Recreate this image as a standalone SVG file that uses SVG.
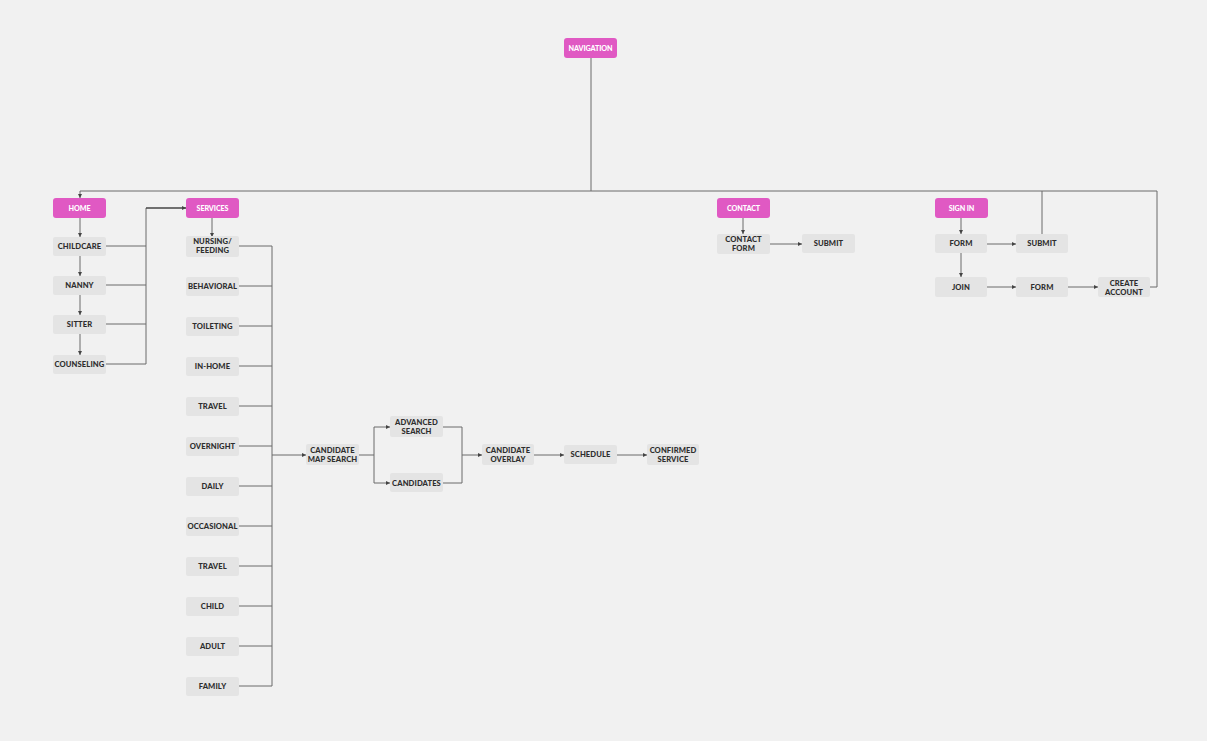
<svg xmlns="http://www.w3.org/2000/svg" width="1207" height="741" viewBox="0 0 1207 741">
<style>
.bg{fill:#f1f1f1}
.p rect{fill:#e059c3}
.p text{fill:#fff;font-family:Lato,"Liberation Sans",sans-serif;font-weight:900;font-size:7.2px;text-anchor:middle;letter-spacing:-0.1px}
.n rect{fill:#e4e4e4}
.n text{fill:#2e2e2e;font-family:Lato,"Liberation Sans",sans-serif;font-weight:900;font-size:7.6px;text-anchor:middle;letter-spacing:0.1px}
.c path{fill:none;stroke:#6a6a6a;stroke-width:1}
.c path.a{marker-end:url(#ah)}
.c path.t{stroke:#444;stroke-width:1.4}
</style>
<defs>
<marker id="ah" viewBox="0 0 6 6" refX="6" refY="3" markerWidth="4" markerHeight="4" orient="auto" markerUnits="userSpaceOnUse">
<path d="M0,0 L6,3 L0,6 z" fill="#444"/>
</marker>
</defs>
<rect class="bg" x="0" y="0" width="1207" height="741"/>

<g class="c" id="connectors">
<path d="M591,58 V191"/>
<path d="M80,191 H1157 V287 H1150"/>
<path class="a" d="M80,191 V198"/>
<path d="M1042,191 V234"/>
<path class="a" d="M80,218 V237"/>
<path class="a" d="M80,255 V276"/>
<path class="a" d="M80,294 V315"/>
<path class="a" d="M80,334 V355"/>
<path d="M106,246 H146"/>
<path d="M106,285 H146"/>
<path d="M106,324 H146"/>
<path d="M106,364 H146 V208"/>
<path class="a t" d="M146,208 H186"/>
<path class="a" d="M212,218 V237"/>
<path d="M239,246 H272 V686 H239"/>
<path d="M239,286 H272"/>
<path d="M239,326 H272"/>
<path d="M239,366 H272"/>
<path d="M239,406 H272"/>
<path d="M239,446 H272"/>
<path d="M239,486 H272"/>
<path d="M239,526 H272"/>
<path d="M239,566 H272"/>
<path d="M239,606 H272"/>
<path d="M239,646 H272"/>
<path class="a" d="M272,455 H306"/>
<path d="M359,455 H374"/>
<path class="a" d="M374,455 V427 H390"/>
<path class="a" d="M374,455 V483 H390"/>
<path d="M443,427 H462 V483 H443"/>
<path class="a" d="M462,455 H482"/>
<path class="a" d="M534,455 H564"/>
<path class="a" d="M617,455 H647"/>
<path class="a" d="M743,217 V234"/>
<path class="a" d="M770,244 H802"/>
<path class="a" d="M961,218 V234"/>
<path class="a" d="M961,253 V277"/>
<path class="a" d="M987,244 H1016"/>
<path class="a" d="M987,287 H1016"/>
<path class="a" d="M1068,287 H1098"/>
</g>

<g id="navigation" class="p"><rect x="564" y="38" width="53" height="20" rx="3"/><text x="590.5" y="50.5">NAVIGATION</text></g>
<g id="home" class="p"><rect x="53" y="198" width="53" height="20" rx="3"/><text x="79.5" y="210.5">HOME</text></g>
<g id="services" class="p"><rect x="186" y="198" width="53" height="20" rx="3"/><text x="212.5" y="210.5">SERVICES</text></g>
<g id="contact" class="p"><rect x="717" y="198" width="53" height="20" rx="3"/><text x="743.5" y="210.5">CONTACT</text></g>
<g id="signin" class="p"><rect x="935" y="198" width="53" height="20" rx="3"/><text x="961.5" y="210.5">SIGN IN</text></g>

<g id="childcare" class="n"><rect x="53" y="237" width="53" height="19" rx="2"/><text x="79.5" y="249">CHILDCARE</text></g>
<g id="nanny" class="n"><rect x="53" y="276" width="53" height="19" rx="2"/><text x="79.5" y="288">NANNY</text></g>
<g id="sitter" class="n"><rect x="53" y="315" width="53" height="19" rx="2"/><text x="79.5" y="327">SITTER</text></g>
<g id="counseling" class="n"><rect x="53" y="355" width="53" height="19" rx="2"/><text x="79.5" y="367">COUNSELING</text></g>

<g id="nursing" class="n"><rect x="186" y="236" width="53" height="21" rx="2"/><text x="212.5" y="244">NURSING/</text><text x="212.5" y="253">FEEDING</text></g>
<g id="behavioral" class="n"><rect x="186" y="277" width="53" height="19" rx="2"/><text x="212.5" y="289">BEHAVIORAL</text></g>
<g id="toileting" class="n"><rect x="186" y="317" width="53" height="19" rx="2"/><text x="212.5" y="329">TOILETING</text></g>
<g id="inhome" class="n"><rect x="186" y="357" width="53" height="19" rx="2"/><text x="212.5" y="369">IN-HOME</text></g>
<g id="travel1" class="n"><rect x="186" y="397" width="53" height="19" rx="2"/><text x="212.5" y="409">TRAVEL</text></g>
<g id="overnight" class="n"><rect x="186" y="437" width="53" height="19" rx="2"/><text x="212.5" y="449">OVERNIGHT</text></g>
<g id="daily" class="n"><rect x="186" y="477" width="53" height="19" rx="2"/><text x="212.5" y="489">DAILY</text></g>
<g id="occasional" class="n"><rect x="186" y="517" width="53" height="19" rx="2"/><text x="212.5" y="529">OCCASIONAL</text></g>
<g id="travel2" class="n"><rect x="186" y="557" width="53" height="19" rx="2"/><text x="212.5" y="569">TRAVEL</text></g>
<g id="child" class="n"><rect x="186" y="597" width="53" height="19" rx="2"/><text x="212.5" y="609">CHILD</text></g>
<g id="adult" class="n"><rect x="186" y="637" width="53" height="19" rx="2"/><text x="212.5" y="649">ADULT</text></g>
<g id="family" class="n"><rect x="186" y="677" width="53" height="19" rx="2"/><text x="212.5" y="689">FAMILY</text></g>

<g id="mapsearch" class="n"><rect x="306" y="444" width="53" height="21" rx="2"/><text x="332.5" y="453">CANDIDATE</text><text x="332.5" y="462">MAP SEARCH</text></g>
<g id="advsearch" class="n"><rect x="390" y="416" width="53" height="21" rx="2"/><text x="416.5" y="425">ADVANCED</text><text x="416.5" y="434">SEARCH</text></g>
<g id="candidates" class="n"><rect x="390" y="473" width="53" height="19" rx="2"/><text x="416.5" y="485.5">CANDIDATES</text></g>
<g id="overlay" class="n"><rect x="482" y="444" width="52" height="21" rx="2"/><text x="508" y="453">CANDIDATE</text><text x="508" y="462">OVERLAY</text></g>
<g id="schedule" class="n"><rect x="564" y="445" width="53" height="19" rx="2"/><text x="590.5" y="457">SCHEDULE</text></g>
<g id="confirmed" class="n"><rect x="647" y="444" width="52" height="21" rx="2"/><text x="673" y="453">CONFIRMED</text><text x="673" y="462">SERVICE</text></g>

<g id="contactform" class="n"><rect x="717" y="234" width="53" height="20" rx="2"/><text x="743.5" y="242">CONTACT</text><text x="743.5" y="251">FORM</text></g>
<g id="contactsubmit" class="n"><rect x="802" y="234" width="53" height="19" rx="2"/><text x="828.5" y="246">SUBMIT</text></g>

<g id="signinform" class="n"><rect x="935" y="234" width="52" height="19" rx="2"/><text x="961" y="246">FORM</text></g>
<g id="signinsubmit" class="n"><rect x="1016" y="234" width="52" height="19" rx="2"/><text x="1042" y="246">SUBMIT</text></g>
<g id="join" class="n"><rect x="935" y="277" width="52" height="20" rx="2"/><text x="961" y="289.5">JOIN</text></g>
<g id="joinform" class="n"><rect x="1016" y="277" width="52" height="20" rx="2"/><text x="1042" y="289.5">FORM</text></g>
<g id="createaccount" class="n"><rect x="1098" y="277" width="52" height="20" rx="2"/><text x="1124" y="285.5">CREATE</text><text x="1124" y="294.5">ACCOUNT</text></g>
</svg>
